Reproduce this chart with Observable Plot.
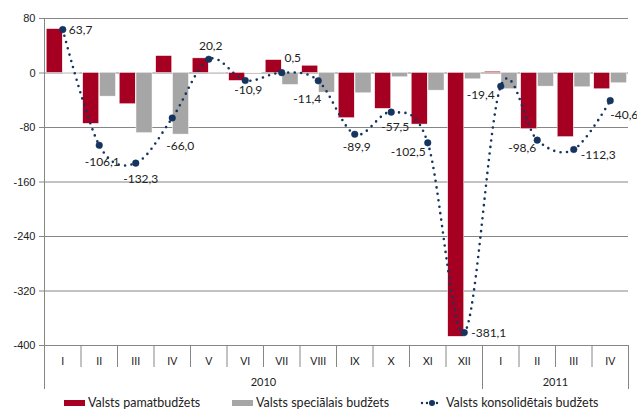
<!DOCTYPE html>
<html>
<head>
<meta charset="utf-8">
<script src="https://cdn.jsdelivr.net/npm/d3@7"></script>
<script src="https://cdn.jsdelivr.net/npm/@observablehq/plot@0.6"></script>
<style>
  body { margin: 0; background: #fff; }
  #wrap { position: relative; width: 637px; height: 410px; font-family: Lato, "Open Sans", sans-serif; }
  #legend { position: absolute; left: 0; top: 395px; width: 637px; height: 15px; font-size: 12.5px; color: #222; }
  .item { position: absolute; top: 0; display: flex; align-items: center; height: 15px; white-space: nowrap; }
  .sw { display: inline-block; width: 21px; height: 6px; margin-right: 3px; }
</style>
</head>
<body>
<div id="wrap">
  <div id="chart"></div>
  <div id="legend"></div>
</div>
<script>
// ---- data ----
const months = ["I","II","III","IV","V","VI","VII","VIII","IX","X","XI","XII","I","II","III","IV"];
const years = ["2010", "2011"];
const yearMonths = [12, 4];
const pamatbudzets = [64.5, -74.7, -45.9, 24.9, 21.5, -11.7, 19.0, 10.7, -66.4, -52.7, -75.7, -387.3, 1.9, -82.5, -94.2, -23.9];
const specialais = [-1.0, -34.7, -88.4, -90.4, -2.0, -0.5, -17.6, -28.8, -29.8, -6.3, -25.9, -9.3, -23.9, -20.0, -21.0, -15.1];
const konsolidetais = [63.7, -106.1, -132.3, -66.0, 20.2, -10.9, 0.5, -11.4, -89.9, -57.5, -102.5, -381.1, -19.4, -98.6, -112.3, -40.6];
const yTicks = [80, 0, -80, -160, -240, -320, -400];
const seriesNames = ["Valsts pamatbudžets", "Valsts speciālais budžets", "Valsts konsolidētais budžets"];

// label placement for data labels: [anchor, dx, dy]
const labelPlacement = [
  ["start", 6, 1], ["middle", 3, 17], ["middle", 5, 16], ["middle", 8, 28],
  ["middle", 2, -13], ["middle", 3, 10], ["middle", 11, -15], ["middle", -11, 18],
  ["middle", 2, 13], ["middle", 4, 15], ["end", -2, 9], ["start", 7, 1],
  ["end", -6, 9], ["end", -1, 8], ["start", 7, 6], ["start", 0, 14]
];

const colors = { red: "#A50021", gray: "#A6A6A6", navy: "#15345F", axis: "#868686" };

// ---- derived tables ----
const rows = months.map((m, i) => ({
  i, month: m, pamat: pamatbudzets[i], spec: specialais[i], kons: konsolidetais[i]
}));
const fmt = v => v.toFixed(1).replace(".", ",");
const monthCenters = months.map((_, i) => i + 0.5);
const monthBounds = d3.range(1, months.length);
let acc = 0;
const yearBounds = [0];
const yearCenters = [];
yearMonths.forEach(n => { yearCenters.push(acc + n / 2); acc += n; yearBounds.push(acc); });

const labelMarks = rows.map((r, k) => {
  const [anchor, dx, dy] = labelPlacement[k];
  return Plot.text([r], {
    x: d => d.i + 0.5, y: "kons", text: d => fmt(d.kons), textAnchor: anchor,
    dx, dy, fontSize: 12, fill: "#222"
  });
});

const chart = Plot.plot({
  width: 637,
  height: 392,
  marginLeft: 44,
  marginRight: 9,
  marginTop: 18,
  marginBottom: 47,
  style: { fontFamily: "Lato, 'Open Sans', sans-serif", background: "#fff", overflow: "visible" },
  x: { type: "linear", domain: [0, months.length], axis: null },
  y: { domain: [-400, 80], axis: null },
  marks: [
    Plot.ruleY(yTicks, { stroke: colors.axis, strokeWidth: 1 }),
    Plot.axisY({ ticks: yTicks, tickFormat: d => String(d), tickSize: 5, tickPadding: 4, fontSize: 11,
                 fontFamily: "'Liberation Sans', Arial, sans-serif", stroke: colors.axis, color: "#222" }),
    Plot.ruleX([0], { y1: 80, y2: -400, stroke: colors.axis }),
    Plot.axisX(monthBounds, { tickSize: 22, tickFormat: () => "", stroke: colors.axis }),
    Plot.axisX(yearBounds, { tickSize: 44, tickFormat: () => "", stroke: colors.axis }),
    Plot.axisX(monthCenters, { tickFormat: d => months[Math.floor(d)], tickSize: 0, tickPadding: 12, fontSize: 10.5, color: "#222" }),
    Plot.axisX(yearCenters, { tickFormat: d => years[yearCenters.indexOf(d)], tickSize: 0, tickPadding: 33, fontSize: 11, color: "#222" }),
    Plot.rectY(rows, { x1: d => d.i + 0.06, x2: d => d.i + 0.5, y1: 0, y2: "pamat", fill: colors.red, stroke: "#fff", strokeWidth: 0.5 }),
    Plot.rectY(rows, { x1: d => d.i + 0.52, x2: d => d.i + 0.96, y1: 0, y2: "spec", fill: colors.gray, stroke: "#fff", strokeWidth: 0.5 }),
    Plot.line(rows, { x: d => d.i + 0.5, y: "kons", curve: "cardinal", stroke: colors.navy, strokeWidth: 2.6,
                      strokeDasharray: "0 6.5", strokeLinecap: "round" }),
    Plot.dot(rows, { x: d => d.i + 0.5, y: "kons", r: 3.3, fill: colors.navy, stroke: colors.navy, strokeWidth: 0.5 }),
    ...labelMarks
  ]
});
document.getElementById("chart").appendChild(chart);

// ---- legend ----
const legend = document.getElementById("legend");
const items = [
  { left: 64, html: `<span class="sw" style="background:${colors.red}"></span>` },
  { left: 232, html: `<span class="sw" style="background:${colors.gray}"></span>` },
  { left: 420, html: `<svg width="24" height="8" style="margin-right:2px"><line x1="2" y1="4" x2="22" y2="4" stroke="${colors.navy}" stroke-width="2.4" stroke-dasharray="0 5" stroke-linecap="round"/><circle cx="12" cy="4" r="3" fill="${colors.navy}"/></svg>` }
];
items.forEach((it, k) => {
  const div = document.createElement("div");
  div.className = "item";
  div.style.left = it.left + "px";
  div.innerHTML = it.html + `<span>${seriesNames[k]}</span>`;
  legend.appendChild(div);
});
</script>
</body>
</html>
